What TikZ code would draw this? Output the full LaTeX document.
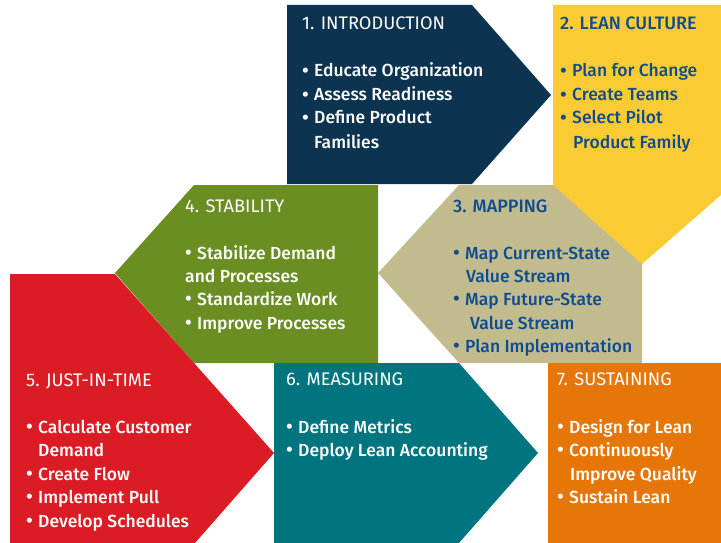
\documentclass[tikz,border=0pt]{standalone}
\usepackage{fontspec}
\setmainfont{Fira Sans}[UprightFont={* Medium}]
\newfontfamily\headfont{Fira Sans}
\definecolor{navy}{HTML}{0C3350}
\definecolor{ylw}{HTML}{FBCB33}
\definecolor{tan}{HTML}{C2BB8E}
\definecolor{olive}{HTML}{6B8E23}
\definecolor{redc}{HTML}{DC1C24}
\definecolor{teal}{HTML}{007580}
\definecolor{orng}{HTML}{E67608}
\definecolor{bluet}{HTML}{0D4C91}
\newcommand\bul{\makebox[12pt][l]{\fontsize{20}{20}\selectfont\raisebox{-0.5pt}{•}}}
\tikzset{
  wt/.style={anchor=base west,inner sep=0pt,text=white,font=\fontsize{17.5}{19}\selectfont},
  bt/.style={wt,text=bluet},
  wh/.style={wt,font=\headfont\fontsize{18.2}{20}\selectfont},
  bh/.style={wt,font=\fontsize{18}{20}\selectfont,text=bluet},
}
\begin{document}
\begin{tikzpicture}[x=1pt,y=-1pt]
\useasboundingbox (0,0) rectangle (721,543);
% shapes
\fill[navy] (287,5) -- (472,5) -- (551,95) -- (472,184) -- (287,184) -- cycle;
\fill[tan] (378,273) -- (459,185) -- (642,185) -- (642,363) -- (459,363) -- cycle;
\fill[ylw] (553,5) -- (721,5) -- (721,195) -- (642,264) -- (553,185) -- cycle;
\fill[olive] (115,273) -- (194,185) -- (378,185) -- (378,363) -- (194,363) -- cycle;
\fill[redc] (10,274) -- (115,274) -- (274,453) -- (195,543) -- (10,543) -- cycle;
\fill[teal] (274,363) -- (459,363) -- (538,453) -- (459,543) -- (274,543) -- cycle;
\fill[orng] (548,363) rectangle (721,543);
% 1
\node[wh] (h1) at (302,30) {1. INTRODUCTION};
\node[wt] (a1) at (302,77) {\bul Educate Organization};
\node[wt] (b1) at (302,101) {\bul Assess Readiness};
\node[wt] (c1) at (302,124) {\bul Define Product};
\node[wt] (d1) at (314,148) {Families};
% 2
\node[bh] (h2) at (560,30) {2. LEAN CULTURE};
\node[bt] (a2) at (560,77) {\bul Plan for Change};
\node[bt] (b2) at (560,101) {\bul Create Teams};
\node[bt] (c2) at (560,124) {\bul Select Pilot};
\node[bt] (d2) at (573,148) {Product Family};
% 3
\node[bh] (h3) at (453,212) {3. MAPPING};
\node[bt] (a3) at (453,259) {\bul Map Current-State};
\node[bt] (b3) at (466,282) {Value Stream};
\node[bt] (c3) at (453,305) {\bul Map Future-State};
\node[bt] (d3) at (470,329) {Value Stream};
\node[bt] (e3) at (453,352) {\bul Plan Implementation};
% 4
\node[wh] (h4) at (185,212) {4. STABILITY};
\node[wt] (a4) at (185,259) {\bul Stabilize Demand};
\node[wt] (b4) at (185,282) {and Processes};
\node[wt] (c4) at (185,305) {\bul Standardize Work};
\node[wt] (d4) at (185,329) {\bul Improve Processes};
% 5
\node[wh] (h5) at (26,386) {5. JUST-IN-TIME};
\node[wt] (a5) at (26,433) {\bul Calculate Customer};
\node[wt] (b5) at (38,456) {Demand};
\node[wt] (c5) at (26,480) {\bul Create Flow};
\node[wt] (d5) at (26,503) {\bul Implement Pull};
\node[wt] (e5) at (26,527) {\bul Develop Schedules};
% 6
\node[wh] (h6) at (286,385) {6. MEASURING};
\node[wt] (a6) at (286,433) {\bul Define Metrics};
\node[wt] (b6) at (286,456) {\bul Deploy Lean Accounting};
% 7
\node[wh] (h7) at (557,385) {7. SUSTAINING};
\node[wt] (a7) at (557,433) {\bul Design for Lean};
\node[wt] (b7) at (557,456) {\bul Continuously};
\node[wt] (c7) at (570,480) {Improve Quality};
\node[wt] (d7) at (557,503) {\bul Sustain Lean};
\end{tikzpicture}
\end{document}
